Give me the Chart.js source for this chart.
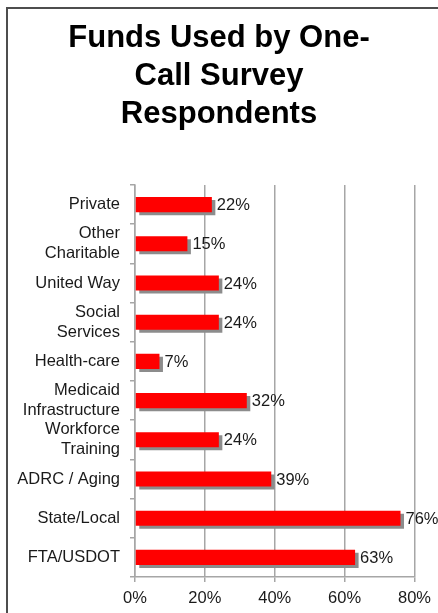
<!DOCTYPE html>
<html>
<head>
<meta charset="utf-8">
<script src="https://cdn.jsdelivr.net/npm/chart.js@4"></script>
<style>
  html, body { margin: 0; padding: 0; background: #fff; overflow: hidden; }
  #wrap { position: relative; width: 438px; height: 613px; }
  #frame { position: absolute; left: 6px; top: 7px; width: 600px; height: 700px; border: 2px solid #4d4d4d; box-sizing: border-box; pointer-events: none; }
  canvas { position: absolute; left: 0; top: 0; }
</style>
</head>
<body>
<div id="wrap">
  <canvas id="c" width="438" height="613"></canvas>
  <div id="frame"></div>
</div>
<script>
const titleLines = ['Funds Used by One-', 'Call Survey', 'Respondents'];
const categories = [
  'Private',
  ['Other', 'Charitable'],
  'United Way',
  ['Social', 'Services'],
  'Health-care',
  ['Medicaid', 'Infrastructure'],
  ['Workforce', 'Training'],
  'ADRC / Aging',
  'State/Local',
  'FTA/USDOT'
];
const values = [22, 15, 24, 24, 7, 32, 24, 39, 76, 63];
const xTicks = [0, 20, 40, 60, 80];

const FONT = "'Liberation Sans', Arial, sans-serif";

const shadowPlugin = {
  id: 'barShadow',
  beforeDatasetDraw(chart) {
    const ctx = chart.ctx;
    ctx.save();
    ctx.shadowColor = '#8c8c8c';
    ctx.shadowOffsetX = 3.5;
    ctx.shadowOffsetY = 3;
    ctx.shadowBlur = 0;
  },
  afterDatasetDraw(chart) {
    chart.ctx.restore();
  }
};

const labelPlugin = {
  id: 'valueLabels',
  afterDatasetsDraw(chart) {
    const ctx = chart.ctx;
    const meta = chart.getDatasetMeta(0);
    ctx.save();
    ctx.font = '16.5px ' + FONT;
    ctx.fillStyle = '#1a1a1a';
    ctx.textAlign = 'left';
    ctx.textBaseline = 'middle';
    meta.data.forEach((bar, i) => {
      ctx.fillText(values[i] + '%', bar.x + 5, bar.y + 1);
    });
    ctx.restore();
  }
};

new Chart(document.getElementById('c'), {
  type: 'bar',
  data: {
    labels: categories,
    datasets: [{
      data: values,
      backgroundColor: '#ff0000',
      borderWidth: 0,
      categoryPercentage: 1,
      barPercentage: 0.385
    }]
  },
  plugins: [shadowPlugin, labelPlugin],
  options: {
    indexAxis: 'y',
    responsive: false,
    animation: false,
    devicePixelRatio: 1,
    layout: { padding: { left: 10, right: 10, top: 0, bottom: 0 } },
    plugins: {
      legend: { display: false },
      tooltip: { enabled: false },
      title: {
        display: true,
        text: titleLines,
        color: '#000',
        font: { family: FONT, size: 31, weight: 'bold', lineHeight: 1.226 },
        padding: { top: 19, bottom: 52 }
      }
    },
    scales: {
      x: {
        min: 0,
        max: 80,
        afterBuildTicks(scale) { scale.ticks = xTicks.map(v => ({ value: v })); },
        afterFit(scale) { scale.height = 36; },
        ticks: {
          callback: v => v + '%',
          color: '#1a1a1a',
          font: { family: FONT, size: 16.5 },
          padding: 7,
          maxRotation: 0
        },
        grid: { color: '#a6a6a6', lineWidth: 1.5, tickLength: 5, drawTicks: true },
        border: { display: true, color: '#a6a6a6', width: 1.5 }
      },
      y: {
        afterFit(scale) { scale.width = 125; },
        ticks: {
          autoSkip: false,
          color: '#1a1a1a',
          font: { family: FONT, size: 16.5, lineHeight: 1.22 },
          padding: 10
        },
        grid: { display: true, drawOnChartArea: false, drawTicks: true, tickLength: 5, color: '#a6a6a6', lineWidth: 1.5, offset: true },
        border: { display: true, color: '#a6a6a6', width: 1.5 }
      }
    }
  }
});
</script>
</body>
</html>
